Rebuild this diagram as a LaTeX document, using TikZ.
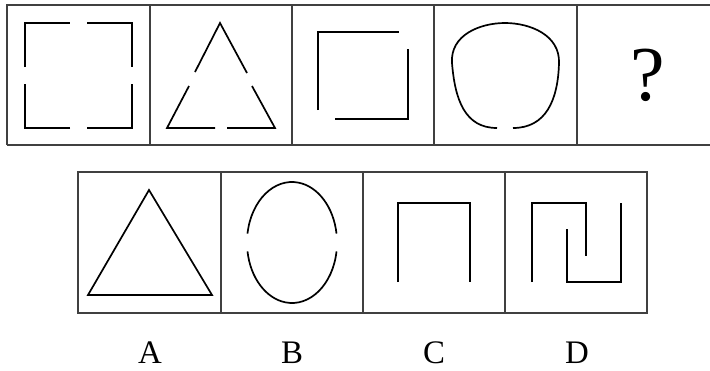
\documentclass[tikz,border=0pt]{standalone}
\usepackage{fontspec}
\setmainfont{Liberation Serif}
\begin{document}
\begin{tikzpicture}[x=1bp,y=-1bp,
  frame/.style={draw=black!75,line width=1.1bp},
  shp/.style={draw=black,line width=1.7bp},
  lbl/.style={font=\fontsize{33}{33}\selectfont,inner sep=0pt,anchor=base}]
\useasboundingbox[fill=white] (0,0) rectangle (710,370);
% top row frame
\draw[frame] (7,145) -- (7,5) -- (712,5);
\draw[frame] (7,145) -- (712,145);
\foreach \x in {150,434,577} \draw[frame] (\x,5) -- (\x,145);
\draw[frame,line width=1.6bp] (292,5) -- (292,145);
% bottom row frame
\draw[frame] (78,172) rectangle (647,313);
\foreach \x in {221,363} \draw[frame] (\x,172) -- (\x,313);
\draw[frame,line width=1.6bp] (505,172) -- (505,313);
% cell 1: square with gaps
\draw[shp] (25,67) -- (25,23) -- (70,23);
\draw[shp] (87,23) -- (132,23) -- (132,67);
\draw[shp] (132,84) -- (132,128) -- (87,128);
\draw[shp] (70,128) -- (25,128) -- (25,84);
% cell 2: triangle with gaps
\draw[shp] (195,72) -- (220,23) -- (247,73);
\draw[shp] (252,86) -- (275,128) -- (227,128);
\draw[shp] (215,128) -- (167,128) -- (189,86);
% cell 3: two corners
\draw[shp] (318,110) -- (318,32) -- (399,32);
\draw[shp] (408,49) -- (408,119) -- (335,119);
% cell 4: open blob
\draw[shp] (497,128) .. controls (465,128) and (455,100) .. (452,63)
  .. controls (450,35) and (480,23) .. (505,23)
  .. controls (530,23) and (560,35) .. (559,63)
  .. controls (558,100) and (546,128) .. (513,128);
% cell 5: question mark
\node[font=\fontsize{78}{78}\selectfont,inner sep=0pt,anchor=base] (q) at (648,100) {?};
% A: triangle
\draw[shp] (149,190) -- (212,295) -- (88,295) -- cycle;
% B: ellipse with side gaps
\draw[shp] (292,242.5) ++(8.5:45 and 60.5) arc[start angle=8.5,end angle=171.5,x radius=45,y radius=60.5];
\draw[shp] (292,242.5) ++(188.5:45 and 60.5) arc[start angle=188.5,end angle=351.5,x radius=45,y radius=60.5];
% C
\draw[shp] (398,282) -- (398,203) -- (470,203) -- (470,282);
% D
\draw[shp] (532,282) -- (532,203) -- (586,203) -- (586,256);
\draw[shp] (567,229) -- (567,282) -- (621,282) -- (621,203);
% labels
\node[lbl] (la) at (150,363) {A};
\node[lbl] (lb) at (292,363) {B};
\node[lbl] (lc) at (434,363) {C};
\node[lbl] (ld) at (577,363) {D};
\end{tikzpicture}
\end{document}
